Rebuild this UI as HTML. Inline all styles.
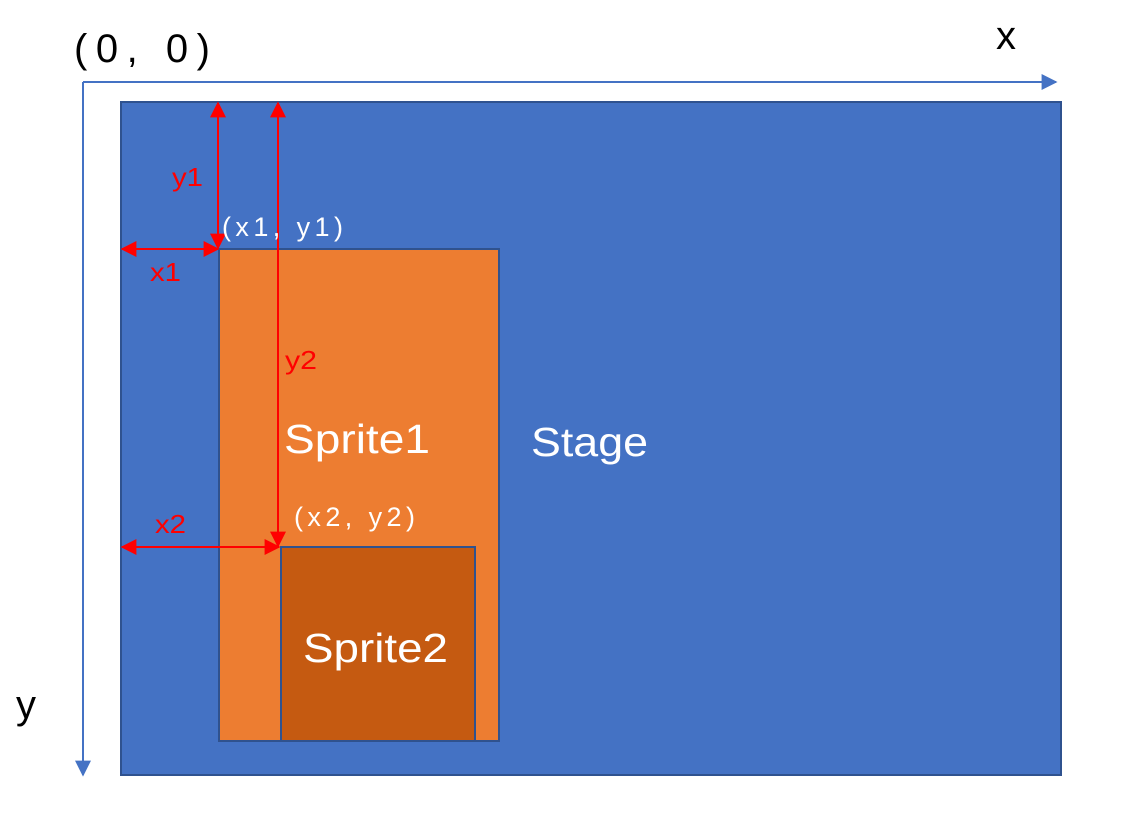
<!DOCTYPE html>
<html><head><meta charset="utf-8"><style>
html,body{margin:0;padding:0;background:#fff;}
svg{display:block;}
text{font-family:"Liberation Sans","Noto Sans CJK SC",sans-serif;}
</style></head><body>
<svg width="1138" height="830" viewBox="0 0 1138 830">
<defs>
<marker id="ab" viewBox="0 0 10 10" refX="9" refY="5" markerWidth="16" markerHeight="16" markerUnits="userSpaceOnUse" orient="auto"><path d="M0,0 L10,5 L0,10 z" fill="#4472C4"/></marker>
<marker id="ar" viewBox="0 0 10 10" refX="9" refY="5" markerWidth="16" markerHeight="16" markerUnits="userSpaceOnUse" orient="auto-start-reverse"><path d="M0,0 L10,5 L0,10 z" fill="#FF0000"/></marker>
</defs>
<rect x="121" y="102" width="940" height="673" fill="#4472C4" stroke="#2F528F" stroke-width="2"/>
<line x1="83" y1="82" x2="1056" y2="82" stroke="#4472C4" stroke-width="2" marker-end="url(#ab)"/>
<line x1="83" y1="82" x2="83" y2="775" stroke="#4472C4" stroke-width="2" marker-end="url(#ab)"/>
<rect x="219" y="249" width="280" height="492" fill="#ED7D31" stroke="#2F528F" stroke-width="2"/>
<rect x="281" y="547" width="194" height="194" fill="#C55A11" stroke="#2F528F" stroke-width="2"/>
<line x1="218" y1="103" x2="218" y2="248" stroke="#FF0000" stroke-width="2" marker-start="url(#ar)" marker-end="url(#ar)"/>
<line x1="278" y1="103" x2="278" y2="546" stroke="#FF0000" stroke-width="2" marker-start="url(#ar)" marker-end="url(#ar)"/>
<line x1="122" y1="249" x2="218" y2="249" stroke="#FF0000" stroke-width="2" marker-start="url(#ar)" marker-end="url(#ar)"/>
<line x1="122" y1="547" x2="279" y2="547" stroke="#FF0000" stroke-width="2" marker-start="url(#ar)" marker-end="url(#ar)"/>
<text x="74" y="62" font-size="40" fill="#000" textLength="136" lengthAdjust="spacing">(0,   0)</text>
<text x="996" y="49" font-size="40" fill="#000">x</text>
<text x="16" y="718" font-size="40" fill="#000">y</text>
<text x="172" y="186" font-size="26" fill="#FF0000" textLength="31" lengthAdjust="spacingAndGlyphs">y1</text>
<text x="150" y="281" font-size="26" fill="#FF0000" textLength="31" lengthAdjust="spacingAndGlyphs">x1</text>
<text x="285" y="369" font-size="26" fill="#FF0000" textLength="32" lengthAdjust="spacingAndGlyphs">y2</text>
<text x="155" y="533" font-size="26" fill="#FF0000" textLength="31" lengthAdjust="spacingAndGlyphs">x2</text>
<text x="222" y="236" font-size="27" fill="#fff" textLength="121" lengthAdjust="spacing">(x1,   y1)</text>
<text x="294" y="526" font-size="27" fill="#fff" textLength="121" lengthAdjust="spacing">(x2,   y2)</text>
<text x="284" y="453" font-size="41" fill="#fff" textLength="146" lengthAdjust="spacingAndGlyphs">Sprite1</text>
<text x="531" y="456" font-size="41" fill="#fff" textLength="117" lengthAdjust="spacingAndGlyphs">Stage</text>
<text x="303" y="662" font-size="41" fill="#fff" textLength="145" lengthAdjust="spacingAndGlyphs">Sprite2</text>
</svg>
</body></html>
